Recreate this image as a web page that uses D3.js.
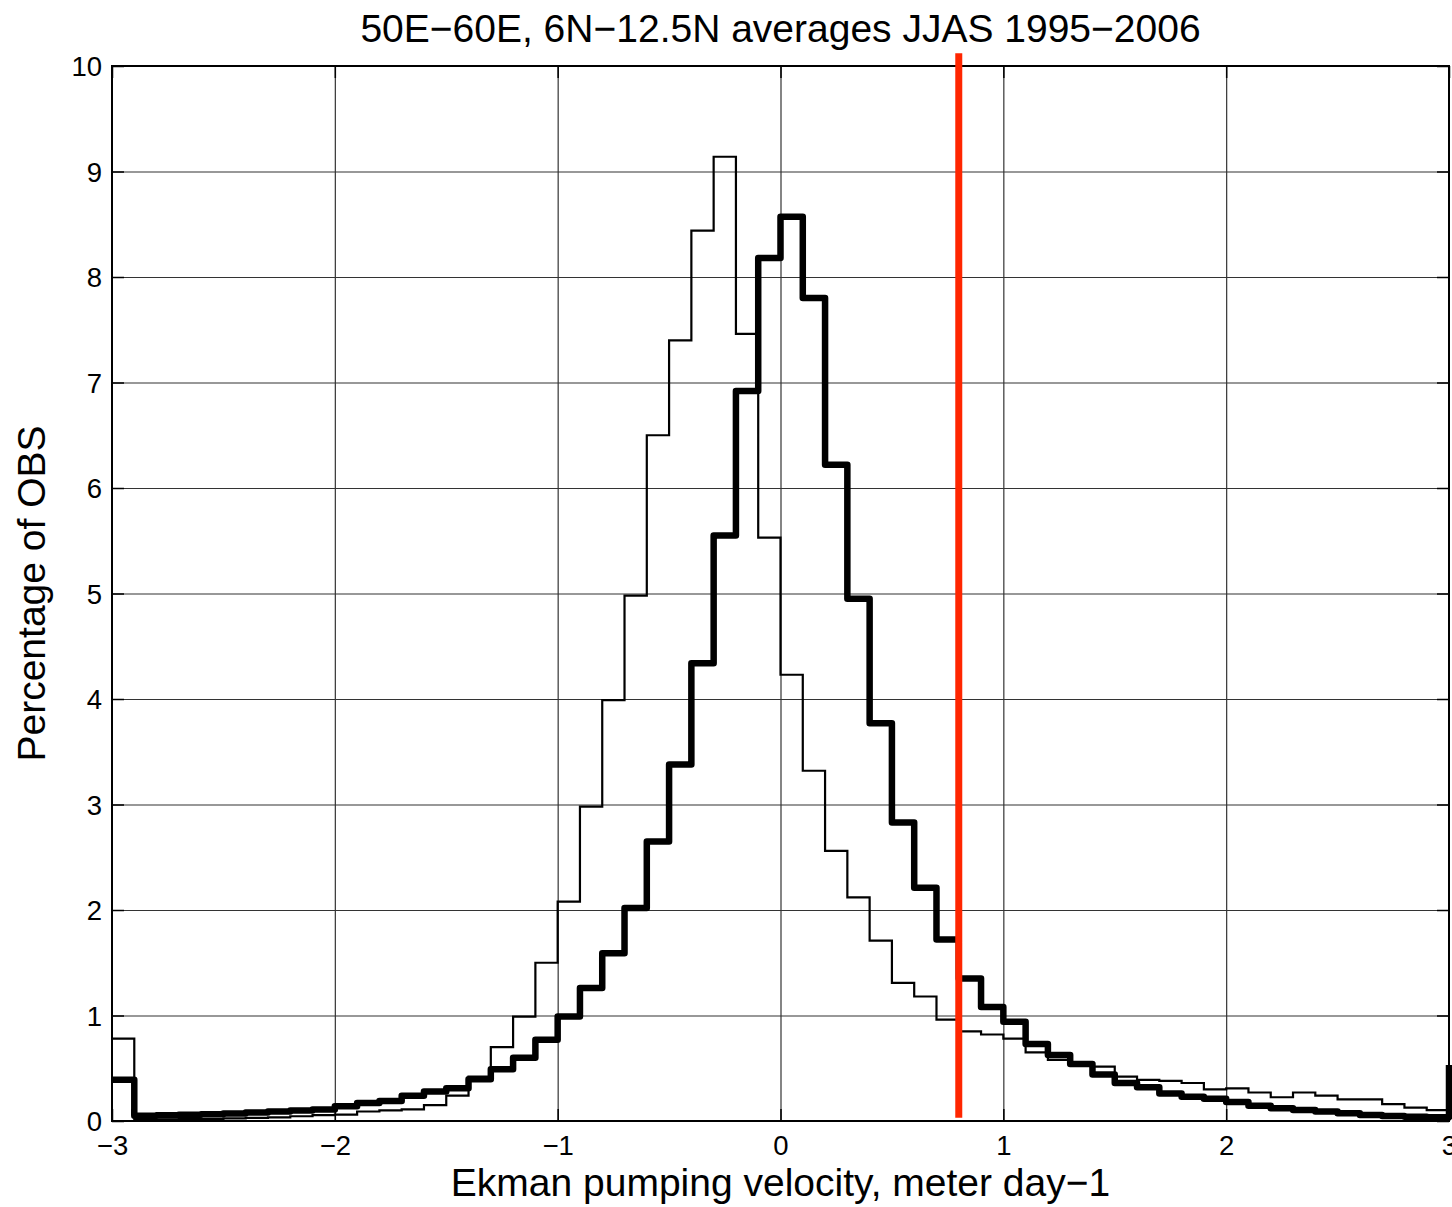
<!DOCTYPE html>
<html>
<head>
<meta charset="utf-8">
<script src="https://cdn.jsdelivr.net/npm/d3@7"></script>
<style>
  html, body { margin: 0; padding: 0; background: #fff; }
  svg { display: block; font-family: "Liberation Sans", Arial, Helvetica, sans-serif; }
</style>
</head>
<body>
<svg id="chart" width="1452" height="1207"></svg>
<script>
// ---- data ----
const titleText = "50E\u221260E, 6N\u221212.5N averages JJAS 1995\u22122006";
const xLabelText = "Ekman pumping velocity, meter day\u22121";
const yLabelText = "Percentage of OBS";

const xTicks = [-3, -2, -1, 0, 1, 2, 3];
const yTicks = [0, 1, 2, 3, 4, 5, 6, 7, 8, 9, 10];

const binEdges = [-3.0, -2.9, -2.8, -2.7, -2.6, -2.5, -2.4, -2.3, -2.2, -2.1,
  -2.0, -1.9, -1.8, -1.7, -1.6, -1.5, -1.4, -1.3, -1.2, -1.1,
  -1.0, -0.9, -0.8, -0.7, -0.6, -0.5, -0.4, -0.3, -0.2, -0.1,
  0.0, 0.1, 0.2, 0.3, 0.4, 0.5, 0.6, 0.7, 0.8, 0.9,
  1.0, 1.1, 1.2, 1.3, 1.4, 1.5, 1.6, 1.7, 1.8, 1.9,
  2.0, 2.1, 2.2, 2.3, 2.4, 2.5, 2.6, 2.7, 2.8, 2.9, 3.0];

const thinValues = [0.78, 0.01, 0.015, 0.02, 0.02, 0.025, 0.03, 0.035, 0.045, 0.055,
  0.06, 0.09, 0.10, 0.11, 0.15, 0.24, 0.42, 0.70, 0.99, 1.50,
  2.08, 2.98, 3.99, 4.98, 6.50, 7.40, 8.44, 9.14, 7.46, 5.53,
  4.23, 3.32, 2.56, 2.12, 1.71, 1.31, 1.18, 0.96, 0.85, 0.82,
  0.78, 0.65, 0.58, 0.55, 0.515, 0.42, 0.39, 0.38, 0.36, 0.30,
  0.31, 0.27, 0.225, 0.27, 0.24, 0.205, 0.205, 0.16, 0.126, 0.104, 0.2];

const thickValues = [0.39, 0.05, 0.055, 0.06, 0.065, 0.07, 0.08, 0.09, 0.10, 0.11,
  0.14, 0.17, 0.19, 0.24, 0.28, 0.31, 0.395, 0.49, 0.60, 0.77,
  0.99, 1.26, 1.59, 2.02, 2.65, 3.38, 4.34, 5.55, 6.92, 8.18,
  8.57, 7.80, 6.22, 4.95, 3.77, 2.83, 2.21, 1.72, 1.35, 1.08,
  0.94, 0.73, 0.625, 0.54, 0.44, 0.36, 0.32, 0.26, 0.23, 0.21,
  0.18, 0.145, 0.12, 0.105, 0.09, 0.073, 0.057, 0.047, 0.04, 0.035, 0.53];

const thresholdX = [0.8, 0.8];
const thresholdY = [0.03, 10.12];

// ---- layout ----
const mLeft = 112, mRight = 1449, mTop = 66, mBottom = 1121;
const svg = d3.select("#chart");
const x = d3.scaleLinear().domain([-3, 3]).range([mLeft, mRight]);
const y = d3.scaleLinear().domain([0, 10]).range([mBottom, mTop]);
const fmt = d3.format("d");

// grid
const grid = svg.append("g");
grid.append("g")
  .attr("transform", `translate(0,${mBottom})`)
  .call(d3.axisBottom(x).tickValues(xTicks.slice(1, -1)).tickSize(-(mBottom - mTop)).tickFormat(""))
  .call(g => g.select(".domain").remove())
  .call(g => g.selectAll("line").attr("stroke", "#333").attr("stroke-width", 1.2));
grid.append("g")
  .attr("transform", `translate(${mLeft},0)`)
  .call(d3.axisLeft(y).tickValues(yTicks.slice(1, -1)).tickSize(-(mRight - mLeft)).tickFormat(""))
  .call(g => g.select(".domain").remove())
  .call(g => g.selectAll("line").attr("stroke", "#333").attr("stroke-width", 1.2));

// inner ticks on all sides
const tickLen = 12;
const axB = svg.append("g").attr("transform", `translate(0,${mBottom})`)
  .call(d3.axisBottom(x).tickValues(xTicks).tickFormat(fmt).tickSizeInner(-tickLen).tickSizeOuter(0));
const axT = svg.append("g").attr("transform", `translate(0,${mTop})`)
  .call(d3.axisTop(x).tickValues(xTicks).tickSizeInner(-tickLen).tickSizeOuter(0).tickFormat(""));
const axL = svg.append("g").attr("transform", `translate(${mLeft},0)`)
  .call(d3.axisLeft(y).tickValues(yTicks).tickFormat(fmt).tickSizeInner(-tickLen).tickSizeOuter(0));
const axR = svg.append("g").attr("transform", `translate(${mRight},0)`)
  .call(d3.axisRight(y).tickValues(yTicks).tickSizeInner(-tickLen).tickSizeOuter(0).tickFormat(""));
[axB, axT, axL, axR].forEach(a => {
  a.select(".domain").remove();
  a.selectAll("line").attr("stroke", "#000").attr("stroke-width", 1.5);
  a.selectAll("text").attr("font-size", 27.5).attr("fill", "#000")
    .attr("font-family", "'Liberation Sans', Arial, Helvetica, sans-serif");
});
axB.selectAll("text").attr("y", 34).attr("dy", "0");
axL.selectAll("text").attr("x", -10).attr("dy", "0.36em");

// data lines
const pts = (vals) => binEdges.map((e, i) => [e, vals[i]]);
const stair = d3.line().x(d => x(d[0])).y(d => y(d[1])).curve(d3.curveStepAfter);

svg.append("path").datum(pts(thinValues))
  .attr("d", stair).attr("fill", "none").attr("stroke", "#000")
  .attr("stroke-width", 2.2).attr("stroke-linejoin", "miter");
svg.append("path").datum(pts(thickValues))
  .attr("d", stair).attr("fill", "none").attr("stroke", "#000")
  .attr("stroke-width", 6.5).attr("stroke-linejoin", "round");

// axes box
svg.append("rect").attr("x", mLeft).attr("y", mTop)
  .attr("width", mRight - mLeft).attr("height", mBottom - mTop)
  .attr("fill", "none").attr("stroke", "#000").attr("stroke-width", 2);

// threshold line
svg.append("line")
  .attr("x1", x(thresholdX[0])).attr("x2", x(thresholdX[1]))
  .attr("y1", y(thresholdY[0])).attr("y2", y(thresholdY[1]))
  .attr("stroke", "#ff2600").attr("stroke-width", 7);

// labels
svg.append("text").attr("x", (mLeft + mRight) / 2).attr("y", 42)
  .attr("text-anchor", "middle").attr("font-size", 39).text(titleText);
svg.append("text").attr("x", (mLeft + mRight) / 2).attr("y", 1196)
  .attr("text-anchor", "middle").attr("font-size", 39).text(xLabelText);
svg.append("text").attr("transform", `translate(45,${(mTop + mBottom) / 2}) rotate(-90)`)
  .attr("text-anchor", "middle").attr("font-size", 39).text(yLabelText);
</script>
</body>
</html>
